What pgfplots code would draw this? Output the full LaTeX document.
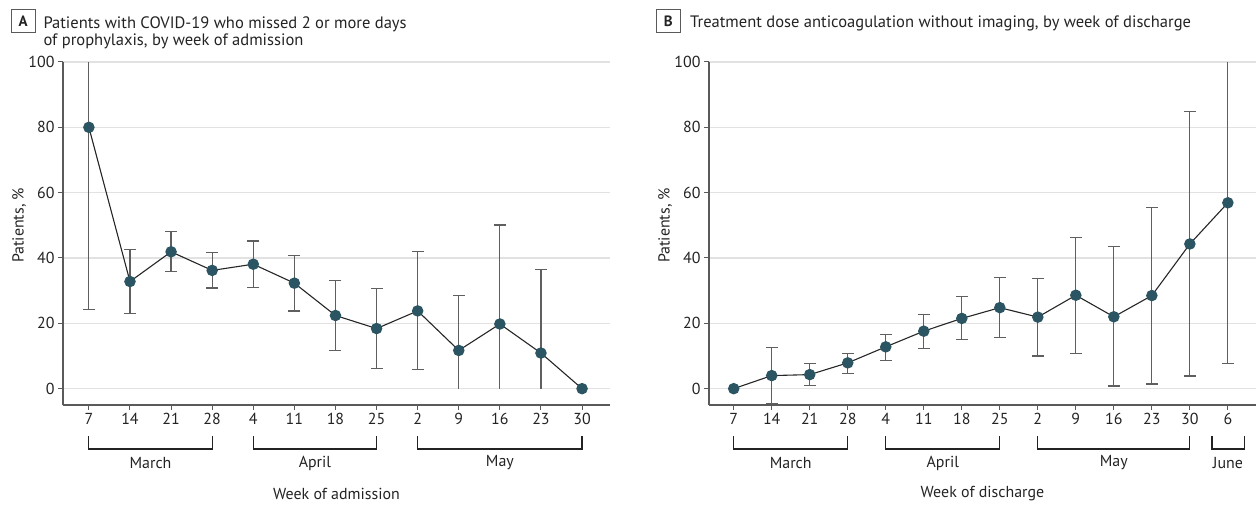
\documentclass[border=0pt]{standalone}
\usepackage{fontspec}
\setmainfont{PT Sans}
\usepackage{pgfplots}
\usepackage{pgfplotstable}
\pgfplotsset{compat=1.18}

\definecolor{dot}{RGB}{44,85,99}
\definecolor{whisk}{RGB}{95,95,95}
\definecolor{spine}{RGB}{90,90,90}
\definecolor{gridc}{RGB}{226,226,226}
\definecolor{txt}{RGB}{35,35,35}

% panel A: week of admission (x = week index, lo/hi = CI bounds)
\pgfplotstableread{
x y lo hi
0 80.0 24.3 100
1 32.8 22.9 42.6
2 41.9 35.9 48.1
3 36.2 30.8 41.8
4 38.1 31.0 45.2
5 32.3 23.8 40.8
6 22.4 11.7 33.1
7 18.4 6.2 30.6
8 23.8 5.8 41.9
9 11.7 0 28.6
10 19.8 0 50.1
11 10.9 0 36.6
12 0 0 0
}\tabA
% capped CI ends for panel A
\pgfplotstableread{
x c
0 24.3
1 22.9
1 42.6
2 35.9
2 48.1
3 30.8
3 41.8
4 31.0
4 45.2
5 23.8
5 40.8
6 11.7
6 33.1
7 6.2
7 30.6
8 5.8
8 41.9
9 28.6
10 50.1
11 36.6
}\capsA

% panel B: week of discharge
\pgfplotstableread{
x y lo hi
0 0 0 0
1 4.0 -4.6 12.7
2 4.3 1.0 7.6
3 7.9 4.7 10.7
4 12.8 8.7 16.7
5 17.6 12.4 22.8
6 21.5 15.0 28.1
7 24.8 15.6 34.1
8 21.9 10.0 33.8
9 28.6 10.7 46.2
10 22.0 0.8 43.4
11 28.5 1.4 55.5
12 44.3 3.9 84.8
13 56.9 7.7 100
}\tabB
\pgfplotstableread{
x c
1 -4.6
1 12.7
2 1.0
2 7.6
3 4.7
3 10.7
4 8.7
4 16.7
5 12.4
5 22.8
6 15.0
6 28.1
7 15.6
7 34.1
8 10.0
8 33.8
9 10.7
9 46.2
10 0.8
10 43.4
11 1.4
11 55.5
12 3.9
12 84.8
13 7.7
}\capsB

\newcommand{\lblfont}{\fontsize{16}{16}\selectfont}
\newcommand{\ttlfont}{\fontsize{16.6}{16.6}\selectfont}

\pgfplotsset{
  panel/.style={
    scale only axis, width=547bp, height=343bp,
    ymin=-5, ymax=100, ytick={0,20,...,100},
    axis lines*=left,
    axis line style={spine, line width=1.2bp},
    tick style={spine, line width=1bp},
    tick align=outside, major tick length=5bp,
    ymajorgrids, grid style={gridc, line width=1.5bp},
    tick label style={font=\lblfont, text=txt},
    /pgf/number format/assume math mode=true,
    ylabel={Patients, \%},
    ylabel style={at={(axis description cs:-0.0804,0.5238)}, anchor=center, font=\lblfont, text=txt},
    xlabel style={at={(axis description cs:0.5,0)}, anchor=center, yshift=-89bp, font=\lblfont, text=txt},
    clip=false,
  },
  whisker/.style={draw=none, mark=none, forget plot,
    error bars/.cd, y dir=both, y explicit,
    error mark=none, error bar style={whisk, line width=1.2bp}},
  caps/.style={only marks, mark=-, mark size=6bp, forget plot,
    mark options={whisk, line width=1.2bp}},
  series/.style={black!85, line width=1.1bp, mark=*, mark size=5.2bp,
    mark options={draw=dot, fill=dot}},
}

\newcommand{\bracket}[3]{%
  \draw[txt, line width=1.2bp] ([yshift=-31bp]axis cs:#1,-5) |- ([yshift=-44bp]axis cs:#2,-5) -- ([yshift=-31bp]axis cs:#2,-5);
  \node[font=\lblfont, text=txt, anchor=center] at ([yshift=-58bp]axis cs:{(#1+#2)/2},-5) {#3};
}

\begin{document}
\begin{tikzpicture}
\path[use as bounding box] (0,0) rectangle (1256bp,505bp);

% titles
\draw[spine, line width=1bp] (11.5bp,472bp) rectangle (35bp,495bp);
\node[font=\fontsize{15}{15}\selectfont\bfseries, text=txt] at (23.25bp,483.5bp) {A};
\node[anchor=base west, inner sep=0pt, font=\ttlfont, text=txt] at (43.3bp,476.7bp) {Patients with COVID-19 who missed 2 or more days};
\node[anchor=base west, inner sep=0pt, font=\ttlfont, text=txt] at (43.3bp,459.3bp) {of prophylaxis, by week of admission};

\draw[spine, line width=1bp] (656.7bp,472bp) rectangle (680bp,495bp);
\node[font=\fontsize{15}{15}\selectfont\bfseries, text=txt] at (668.35bp,483.5bp) {B};
\node[anchor=base west, inner sep=0pt, font=\ttlfont, text=txt] at (690bp,477.2bp) {Treatment dose anticoagulation without imaging, by week of discharge};

\begin{axis}[panel, at={(63bp,100bp)}, anchor=south west,
  xmin=-0.63, xmax=12.68,
  xtick={0,...,12}, xticklabels={7,14,21,28,4,11,18,25,2,9,16,23,30},
  xlabel={Week of admission}]
\addplot[whisker] table[x=x, y=y, y error plus expr=\thisrow{hi}-\thisrow{y}, y error minus expr=\thisrow{y}-\thisrow{lo}] {\tabA};
\addplot[caps] table[x=x, y=c] {\capsA};
\addplot[series] table[x=x, y=y] {\tabA};
\bracket{0}{3}{March}
\bracket{4}{7}{April}
\bracket{8}{12}{May}
\end{axis}

\begin{axis}[panel, at={(709bp,100bp)}, anchor=south west,
  xmin=-0.65, xmax=13.74,
  xtick={0,...,13}, xticklabels={7,14,21,28,4,11,18,25,2,9,16,23,30,6},
  xlabel={Week of discharge}]
\addplot[whisker] table[x=x, y=y, y error plus expr=\thisrow{hi}-\thisrow{y}, y error minus expr=\thisrow{y}-\thisrow{lo}] {\tabB};
\addplot[caps] table[x=x, y=c] {\capsB};
\addplot[series] table[x=x, y=y] {\tabB};
\bracket{0}{3}{March}
\bracket{4}{7}{April}
\bracket{8}{12}{May}
\draw[txt, line width=1.2bp] ([yshift=-31bp]axis cs:12.58,-5) |- ([yshift=-44bp]axis cs:13.43,-5) -- ([yshift=-31bp]axis cs:13.43,-5);
\node[font=\lblfont, text=txt, anchor=center] at ([yshift=-58bp]axis cs:13,-5) {June};
\end{axis}
\end{tikzpicture}
\end{document}
